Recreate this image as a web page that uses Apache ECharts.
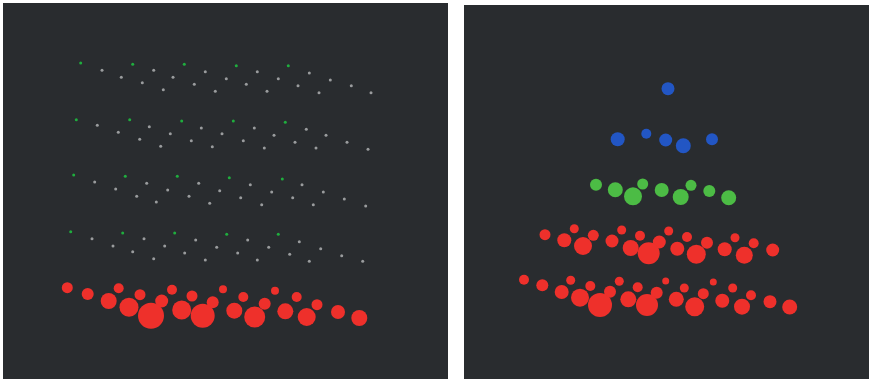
<!DOCTYPE html>
<html>
<head>
<meta charset="utf-8">
<script src="https://cdn.jsdelivr.net/npm/echarts@6/dist/echarts.min.js"></script>
<style>html,body{margin:0;padding:0;background:#fff}#c{width:869px;height:379px}</style>
</head>
<body>
<div id="c"></div>
<script>
// Left panel: small marker layers (green = first of each diagonal, grey = rest)
const leftGreen = [
  [80.7,63],[132.7,64.3],[184.3,64.3],[236.3,65.7],[288.3,65.7],
  [76.3,119.7],[129.7,119.7],[181.7,121],[233.3,121],[285.3,122.3],
  [73.7,175],[125.3,176.3],[177.3,176.3],[229.3,177.7],[282.3,179],
  [70.7,231.7],[122.7,233],[174.7,233],[226.7,234.3],[278.3,234.3]
];
const leftGrey = [
  [102,70.3],[121.3,77.3],[142.3,82.7],[163.3,89.7],
  [153.7,70.3],[173,77.3],[194.3,84.3],[215.3,91.3],
  [205.3,71.7],[226.3,78.7],[246.3,84.3],[267,91.3],
  [257.3,71.7],[278.3,78.7],[298,85.7],[319,92.7],
  [309.3,73],[330.3,80],[351.3,85.7],[371,92.7],

  [97.3,125.3],[118.3,132.3],[139.7,139.3],[160.7,146.3],
  [149.3,126.7],[170.3,133.7],[191.3,140.7],[212.3,146.7],
  [201.3,128],[222,133.7],[243.3,140.7],[264.3,148],
  [254.3,128],[274,135.3],[295,142.3],[316,148],
  [306.3,129.3],[326,135.3],[347,142.3],[368,149.3],

  [94.7,182],[115.7,189],[136.7,196.3],[156.3,202],
  [146.7,183.3],[167.7,190],[189,196.3],[209.7,203.3],
  [198.7,183.3],[219.7,190.7],[240.7,197.7],[261.7,204.7],
  [250.3,184.7],[271.7,192],[292.7,197.7],[313.3,204.7],
  [302,184.7],[323.3,192],[344.3,199],[365.7,206],

  [92,238.7],[113,246],[132.7,251.7],[153.7,258.7],
  [144,238.7],[164.7,246],[184.7,253],[205.3,260],
  [195.7,240],[216.7,247.3],[237.7,253],[257.3,260],
  [247.7,240],[268.7,247.3],[289.7,254.3],[309.3,261.3],
  [299.3,241.7],[320.7,248.7],[341.7,255.7],[362.7,261.3]
];
// [x, y, bubble size]
const leftRed = [
  [67.3,287.7,11],[87.7,294,12],[108.7,301,16],[129,307.3,19],[151,315.7,26],
  [118.7,288.3,10],[140,294.7,11],[161.7,301,13],[181.7,310,19],[202.7,315.7,24],
  [172,289.7,10],[192,296,11],[212.7,302.3,12],[234.3,310.7,16],[254.7,317,21],
  [223,289.3,8],[243.3,297,10],[264.7,303.7,12],[285.3,311.3,16],[306.7,317,18],
  [275,290.7,8],[296.7,297,10],[317,304.7,11],[338,312,14],[359.3,318,16]
];
// Right panel
const rightBlue = [
  [668,88.7,13],
  [646.3,133.7,10],[617.7,139.3,14],[665.7,140,13],[712,139.3,12],[683.3,145.7,15]
];
const rightGreen = [
  [596,184.7,12],[615.3,189.7,15],[633,196.3,18],
  [642.7,184,11],[661.7,190,14],[680.7,197,16],
  [691,185.3,11],[709.3,191,12],[728.7,197.7,15]
];
const rightRed = [
  [545,234.7,11],[564.3,240.3,14],[583,246,18],
  [574.3,228.7,9],[593.3,235.3,11],[612,241,13],[630.7,248,16],[648.7,253.3,22],
  [621.7,230,9],[640,235.7,10],[659.3,242,13],[677.3,248.7,14],[696.3,254.3,19],
  [668.7,231,9],[687,237,10],[707,242.7,12],[724.7,249.3,14],[744.3,255.3,17],
  [735,237.7,9],[753.7,243.3,10],[772.7,250,13],

  [524,279.7,10],[542.3,285.3,12],[561.7,292,14],[580,297.7,18],[600,305,24],
  [570.7,280.3,9],[590.3,286,10],[610,291.7,12],[628.3,299.3,16],[647,305,22],
  [619.3,281.3,9],[637.7,287.3,10],[656.7,292.7,12],[676.3,299.3,15],[694.7,306.7,19],
  [665.7,281,7],[684.3,288,9],[703.3,293.7,11],[722.3,300.7,14],[742,306.7,16],
  [713.3,282,7],[732.7,288,9],[751,295.3,10],[770,301.7,13],[789.7,307,15]
];

const PANEL = '#292c2f';
const byDepth = a => a.slice().sort((p, q) => p[1] - q[1]);

const chart = echarts.init(document.getElementById('c'), null, {renderer: 'canvas'});
const hiddenAxis = (idx, min, max, inverse) => ({
  gridIndex: idx, type: 'value', min, max, inverse: !!inverse, show: false
});
chart.setOption({
  backgroundColor: '#ffffff',
  animation: false,
  grid: [
    {left: 3, top: 3, width: 445, height: 376, show: true, backgroundColor: PANEL, borderWidth: 0},
    {left: 464, top: 5, width: 405, height: 374, show: true, backgroundColor: PANEL, borderWidth: 0}
  ],
  xAxis: [hiddenAxis(0, 3, 448), hiddenAxis(1, 464, 869)],
  yAxis: [hiddenAxis(0, 3, 379, true), hiddenAxis(1, 5, 379, true)],
  series: [
    {type: 'scatter', xAxisIndex: 0, yAxisIndex: 0, data: leftGrey, symbolSize: 3,
      itemStyle: {color: '#aeb0b2', opacity: 0.85}},
    {type: 'scatter', xAxisIndex: 0, yAxisIndex: 0, data: leftGreen, symbolSize: 3,
      itemStyle: {color: '#1fae3e', opacity: 1}},
    {type: 'scatter', xAxisIndex: 0, yAxisIndex: 0, data: byDepth(leftRed),
      symbolSize: v => v[2], itemStyle: {color: '#ee302b', opacity: 1}},
    {type: 'scatter', xAxisIndex: 1, yAxisIndex: 1, data: byDepth(rightBlue),
      symbolSize: v => v[2], itemStyle: {color: '#2256c4', opacity: 1}},
    {type: 'scatter', xAxisIndex: 1, yAxisIndex: 1, data: byDepth(rightGreen),
      symbolSize: v => v[2], itemStyle: {color: '#4cbc45', opacity: 1}},
    {type: 'scatter', xAxisIndex: 1, yAxisIndex: 1, data: byDepth(rightRed),
      symbolSize: v => v[2], itemStyle: {color: '#ee302b', opacity: 1}}
  ]
});
</script>
</body>
</html>
